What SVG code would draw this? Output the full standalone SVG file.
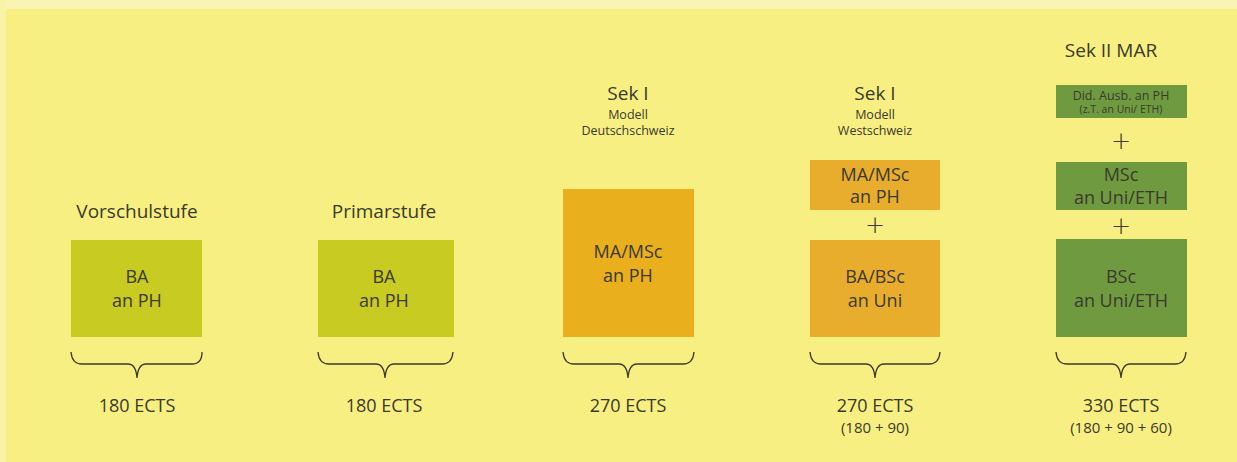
<svg xmlns="http://www.w3.org/2000/svg" width="1237" height="462" viewBox="0 0 1237 462">
<style>
text{font-family:"Open Sans","Liberation Sans",sans-serif;fill:#3b3a2c;text-anchor:middle}
.t{font-size:19px}
.s{font-size:12.5px}
.b{font-size:18px}
.pl{font-size:24px;font-family:"DejaVu Sans","Open Sans",sans-serif;font-weight:200}
.e{font-size:18px}
.p{font-size:15px}
.brace{fill:none;stroke:#3b3a2c;stroke-width:1.3}
.g1{fill:#c8cb22}
.o{fill:#e9af1c}
.o2{fill:#e9ad2e}
.gr{fill:#6f9a40}
</style>
<rect x="0" y="0" width="1237" height="462" fill="#f7ef82"/>
<rect x="0" y="0" width="1237" height="9" fill="#faf4b4"/>
<rect x="0" y="0" width="6" height="462" fill="#f9f3a8"/>
<g id="col1">
<text class="t" x="137" y="218">Vorschulstufe</text>
<rect class="g1" x="71" y="240" width="131" height="97"/>
<text class="b" x="137" y="283">BA</text>
<text class="b" x="137" y="307">an PH</text>
<path class="brace" d="M71,352 Q72,364 82,364 L128,364 Q136,364 137,378 Q138,364 146,364 L192,364 Q202,364 202,352"/>
<text class="e" x="137" y="412">180 ECTS</text>
</g>
<g id="col2">
<text class="t" x="384" y="218">Primarstufe</text>
<rect class="g1" x="318" y="240" width="136" height="97"/>
<text class="b" x="384" y="283">BA</text>
<text class="b" x="384" y="307">an PH</text>
<path class="brace" d="M318,352 Q319,364 329,364 L376,364 Q384,364 385,378 Q386,364 394,364 L442,364 Q452,364 453,352"/>
<text class="e" x="384" y="412">180 ECTS</text>
</g>
<g id="col3">
<text class="t" x="628" y="100">Sek I</text>
<text class="s" x="628" y="119">Modell</text>
<text class="s" x="628" y="135">Deutschschweiz</text>
<rect class="o" x="563" y="189" width="131" height="148"/>
<text class="b" x="628" y="258">MA/MSc</text>
<text class="b" x="628" y="282">an PH</text>
<path class="brace" d="M563,352 Q564,364 574,364 L619,364 Q627,364 628,378 Q629,364 637,364 L683,364 Q693,364 694,352"/>
<text class="e" x="628" y="412">270 ECTS</text>
</g>
<g id="col4">
<text class="t" x="875" y="100">Sek I</text>
<text class="s" x="875" y="119">Modell</text>
<text class="s" x="875" y="135">Westschweiz</text>
<rect class="o2" x="810" y="160" width="130" height="50"/>
<text class="b" x="875" y="181">MA/MSc</text>
<text class="b" x="875" y="203">an PH</text>
<text class="pl" x="875" y="233">+</text>
<rect class="o2" x="810" y="240" width="130" height="97"/>
<text class="b" x="875" y="283">BA/BSc</text>
<text class="b" x="875" y="307">an Uni</text>
<path class="brace" d="M810,352 Q811,364 821,364 L866,364 Q874,364 875,378 Q876,364 884,364 L929,364 Q939,364 940,352"/>
<text class="e" x="875" y="412">270 ECTS</text>
<text class="p" x="875" y="433">(180 + 90)</text>
</g>
<g id="col5">
<text class="t" x="1111" y="57">Sek II MAR</text>
<rect class="gr" x="1056" y="85" width="131" height="33"/>
<text x="1121" y="100" font-size="12.5">Did. Ausb. an PH</text>
<text x="1121" y="113" font-size="10.5">(z.T. an Uni/ ETH)</text>
<text class="pl" x="1121" y="149">+</text>
<rect class="gr" x="1056" y="162" width="131" height="48"/>
<text class="b" x="1121" y="181">MSc</text>
<text class="b" x="1121" y="204">an Uni/ETH</text>
<text class="pl" x="1121" y="234">+</text>
<rect class="gr" x="1056" y="239" width="131" height="98"/>
<text class="b" x="1121" y="283">BSc</text>
<text class="b" x="1121" y="307">an Uni/ETH</text>
<path class="brace" d="M1056,352 Q1057,364 1067,364 L1112,364 Q1120,364 1121,378 Q1122,364 1130,364 L1175,364 Q1185,364 1186,352"/>
<text class="e" x="1121" y="412">330 ECTS</text>
<text class="p" x="1121" y="433">(180 + 90 + 60)</text>
</g>
<g id="connectors"></g>
</svg>
